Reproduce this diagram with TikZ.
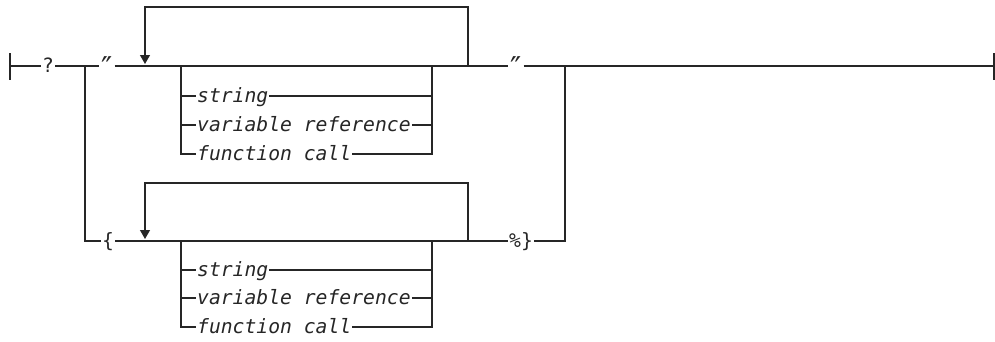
\documentclass[tikz,border=0pt]{standalone}
\usepackage{fontspec}
\newfontfamily\diagfont{DejaVu Sans Mono}
\newfontfamily\primefont{DejaVu Sans}
\usetikzlibrary{arrows.meta}
\begin{document}
\begin{tikzpicture}[x=1pt,y=-1pt,
  line width=1.1pt, draw=black!85,
  lbl/.style={inner xsep=0.6pt, inner ysep=0pt, text height=12pt, text depth=0pt,
              font=\diagfont\fontsize{19.7}{22}\selectfont, text=black!85},
  itl/.style={lbl, font=\diagfont\itshape\fontsize{19.7}{22}\selectfont, anchor=west},
  prime/.style={lbl, inner xsep=1.5pt, font=\primefont\fontsize{30}{32}\selectfont},
  loop/.style={-{Triangle[width=10pt,length=9pt]}, shorten >=2pt}]
\useasboundingbox (0,0) rectangle (995,341);
% main line coordinates
\coordinate (start) at (10,66);
\coordinate (j1) at (85,66);
\coordinate (c1) at (181,66);
\coordinate (c2) at (432,66);
\coordinate (j2) at (565,66);
\coordinate (endpt) at (994,66);
\coordinate (jb1) at (85,241);
\coordinate (cb1) at (181,241);
\coordinate (cb2) at (432,241);
\coordinate (jb2) at (565,241);
% loops
\coordinate (l1r) at (468,66);
\coordinate (l1tr) at (468,7);
\coordinate (l1tl) at (145,7);
\coordinate (l1a) at (145,66);
\coordinate (l2r) at (468,241);
\coordinate (l2tr) at (468,183);
\coordinate (l2tl) at (145,183);
\coordinate (l2a) at (145,241);
% nodes
\node[lbl] (q) at (48,66) {?};
\node[prime] (qt1) at (107,72) {″};
\node[prime] (qt2) at (516,72) {″};
\node[lbl] (br) at (108,241) {\{};
\node[lbl] (pc) at (521,241) {\%\}};
\node[itl] (t1) at (196,96) {string};
\node[itl] (t2) at (196,125) {variable reference};
\node[itl] (t3) at (196,154) {function call};
\node[itl] (u1) at (196,270) {string};
\node[itl] (u2) at (196,298) {variable reference};
\node[itl] (u3) at (196,327) {function call};
% end bars
\draw ([yshift=13pt]start) -- ([yshift=-14pt]start);
\draw ([yshift=13pt]endpt) -- ([yshift=-14pt]endpt);
% main line
\draw (start) -- (q) -- (j1) -- (qt1.west |- j1);
\draw (qt1.east |- j1) -- (qt2.west |- j1);
\draw (qt2.east |- j1) -- (j2) -- (endpt);
% lower alternative
\draw (j1) -- (jb1) -- (br) -- (pc) -- (jb2) -- (j2);
% loops
\draw[loop] (l1r) -- (l1tr) -- (l1tl) -- (l1a);
\draw[loop] (l2r) -- (l2tr) -- (l2tl) -- (l2a);
% upper choice box
\draw (c1) -- (t3 -| c1) -- (t3) -- (t3 -| c2) -- (c2);
\draw (t1 -| c1) -- (t1) -- (t1 -| c2);
\draw (t2 -| c1) -- (t2) -- (t2 -| c2);
% lower choice box
\draw (cb1) -- (u3 -| cb1) -- (u3) -- (u3 -| cb2) -- (cb2);
\draw (u1 -| cb1) -- (u1) -- (u1 -| cb2);
\draw (u2 -| cb1) -- (u2) -- (u2 -| cb2);
\end{tikzpicture}
\end{document}
